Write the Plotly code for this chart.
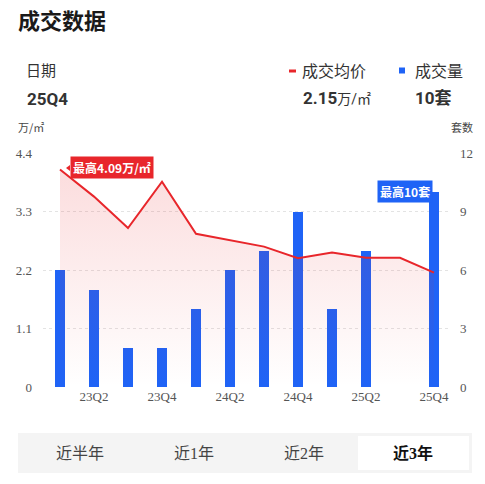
import plotly.graph_objects as go

W, H = 485, 484
L, R, T, B = 43, 34, 153, 97

quarters = ['23Q1', '23Q2', '23Q3', '23Q4', '24Q1', '24Q2',
            '24Q3', '24Q4', '25Q1', '25Q2', '25Q3', '25Q4']
price = [4.09, 3.58, 2.99, 3.86, 2.88, 2.76, 2.64, 2.42, 2.53, 2.43, 2.43, 2.15]  # 万/㎡
volume = [6, 5, 2, 2, 4, 6, 7, 9, 4, 7, 0, 10]  # 套
x_ticks = ['23Q2', '23Q4', '24Q2', '24Q4', '25Q2', '25Q4']
price_ticks = [0, 1.1, 2.2, 3.3, 4.4]
volume_ticks = [0, 3, 6, 9, 12]
tabs = ['近半年', '近1年', '近2年', '近3年']

RED = '#E8262B'
BLUE = '#1F63F6'
CJK = 'Noto Sans CJK SC'
SERIF = 'Liberation Serif, Noto Sans CJK SC'

pw, ph = W - L - R, H - T - B


def px(x):
    return (x - L) / pw


def py(y):
    return (H - B - y) / ph


fig = go.Figure()

# 成交量 - столбцы (нижний слой)
fig.add_trace(go.Bar(
    x=quarters, y=volume, yaxis='y', width=0.3,
    marker=dict(color=BLUE, line=dict(width=0)),
    name='成交量', showlegend=False,
))

# 成交均价 - линия с градиентной заливкой
fig.add_trace(go.Scatter(
    x=quarters, y=price, yaxis='y2', mode='lines',
    line=dict(color=RED, width=2),
    fill='tozeroy',
    fillgradient=dict(type='vertical', start=0, stop=4.4,
                      colorscale=[[0, 'rgba(232,38,43,0.0)'], [1, 'rgba(232,38,43,0.17)']]),
    name='成交均价', showlegend=False,
))

ann = []


def text(x, y, s, size, color='#222', family=CJK, anchor='left'):
    ann.append(dict(x=px(x), y=py(y), xref='paper', yref='paper', text=s, showarrow=False,
                    xanchor=anchor, yanchor='middle', borderpad=0,
                    font=dict(size=size, color=color, family=family)))


text(17, 19, '<b>成交数据</b>', 22, '#1a1a1a')
text(25, 70, '日期', 15, '#333')
text(26, 99, '<b>25Q4</b>', 17, '#333', 'Roboto, ' + CJK)
text(301, 70, '成交均价', 16, '#333')
text(414, 70, '成交量', 16, '#333')
text(302, 98, '<b>2.15</b><span style="font-size:14px">万/㎡</span>', 17, '#333', 'Roboto, ' + CJK)
text(414, 98, '<b>10套</b>', 17, '#333', 'Roboto, ' + CJK)
text(17, 127, '万/㎡', 11, '#444')
text(474, 127, '套数', 11, '#444', anchor='right')

# Метки максимумов
ann.append(dict(x=quarters[0], y=max(price), xref='x', yref='y2', text='<b>最高4.09万/㎡</b>',
                showarrow=False, xanchor='left', yanchor='middle', xshift=10, yshift=2,
                bgcolor=RED, borderpad=2, font=dict(size=12, color='white', family=CJK)))
ann.append(dict(x=quarters[-1], y=max(volume), xref='x', yref='y', text='<b>最高10套</b>',
                showarrow=False, xanchor='right', yanchor='middle', xshift=-1, yshift=1,
                bgcolor=BLUE, borderpad=2, font=dict(size=12, color='white', family=CJK)))

# Вкладки периода
tab_x = [80, 194, 304, 413]
for i, (tx, s) in enumerate(zip(tab_x, tabs)):
    bold = i == len(tabs) - 1
    text(tx, 453, f'<b>{s}</b>' if bold else s, 16, '#111' if bold else '#444', SERIF, 'center')

shapes = [
    # маркеры легенды
    dict(type='rect', xref='paper', yref='paper', x0=px(289), x1=px(296), y0=py(69.5), y1=py(72.5),
         fillcolor=RED, line=dict(width=0)),
    dict(type='rect', xref='paper', yref='paper', x0=px(399), x1=px(405), y0=py(67.5), y1=py(73.5),
         fillcolor=BLUE, line=dict(width=0)),
    # фон вкладок
    dict(type='rect', xref='paper', yref='paper', x0=px(18), x1=px(472), y0=py(473), y1=py(433),
         fillcolor='#F4F4F4', line=dict(width=0), layer='below'),
    dict(type='rect', xref='paper', yref='paper', x0=px(358), x1=px(469), y0=py(470), y1=py(436),
         fillcolor='white', line=dict(width=0), layer='below'),
    # уголок метки
    dict(type='path', xref='paper', yref='paper', layer='above',
         path=f'M {px(70)} {py(165)} L {px(66)} {py(168)} L {px(70)} {py(171)} Z',
         fillcolor=RED, line=dict(width=0)),
]

fig.update_layout(
    width=W, height=H,
    margin=dict(l=L, r=R, t=T, b=B),
    paper_bgcolor='white', plot_bgcolor='white',
    showlegend=False,
    bargap=0,
    xaxis=dict(type='category', range=[-0.5, 11.5], tickvals=x_ticks, ticktext=x_ticks,
               showgrid=False, showline=False, ticks='', zeroline=False,
               tickfont=dict(size=13, color='#555', family=SERIF)),
    yaxis=dict(side='right', range=[0, 12], tickvals=volume_ticks, showgrid=True,
               gridcolor='#E3E3E3', griddash='3px,3px', gridwidth=1, zeroline=False,
               ticks='', ticklabelstandoff=8,
               tickfont=dict(size=13, color='#555', family=SERIF)),
    yaxis2=dict(side='left', overlaying='y', range=[0, 4.4], tickvals=price_ticks,
                tickformat='.1~f', showgrid=False, zeroline=False, ticks='', ticklabelstandoff=10,
                tickfont=dict(size=13, color='#555', family=SERIF)),
    annotations=ann,
    shapes=shapes,
)

fig.write_html('out.html', config={'displayModeBar': False},
               post_script="document.body.style.margin='0';")
